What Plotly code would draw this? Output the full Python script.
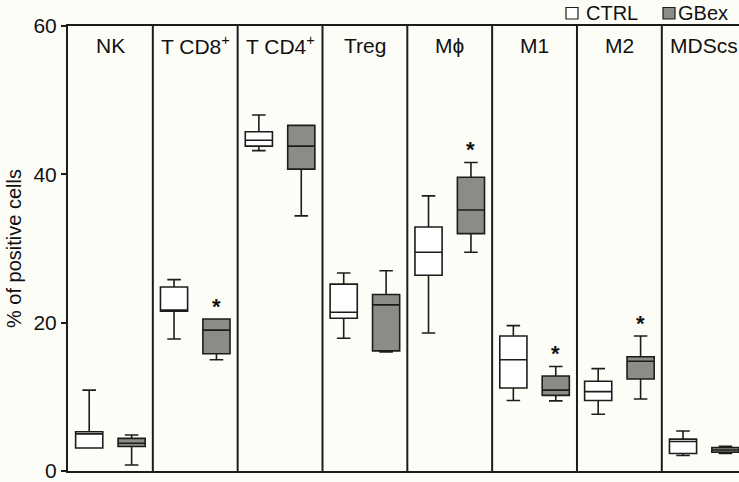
import plotly.graph_objects as go

categories = ["NK", "T CD8<sup>+</sup>", "T CD4<sup>+</sup>", "Treg", "Mϕ", "M1", "M2", "MDScs"]

# CTRL box statistics
ctrl_low = [3.1, 17.8, 43.2, 17.9, 18.6, 9.5, 7.65, 2.08]
ctrl_q1 = [3.1, 21.55, 43.8, 20.6, 26.4, 11.2, 9.5, 2.35]
ctrl_med = [5.0, 21.7, 44.6, 21.4, 29.5, 15.0, 10.7, 3.97]
ctrl_q3 = [5.3, 24.8, 45.75, 25.2, 32.9, 18.2, 12.1, 4.3]
ctrl_high = [10.9, 25.8, 48.0, 26.7, 37.1, 19.6, 13.8, 5.4]

# GBex box statistics
gb_low = [0.8, 15.0, 34.4, 16.05, 29.5, 9.45, 9.7, 2.35]
gb_q1 = [3.3, 15.8, 40.7, 16.2, 32.0, 10.2, 12.4, 2.52]
gb_med = [3.75, 19.0, 43.8, 22.4, 35.2, 10.9, 14.8, 2.84]
gb_q3 = [4.4, 20.5, 46.6, 23.8, 39.6, 12.8, 15.4, 3.16]
gb_high = [4.86, 20.5, 46.6, 27.0, 41.6, 14.1, 18.2, 3.33]

significant = [False, True, False, False, True, True, True, False]

y_ticks = [0, 20, 40, 60]

BG = "#fdfdf8"
LINE = "#1c1c1c"
GRAY = "#8b8b87"
FONT = "Liberation Sans, Arial, sans-serif"

idx = list(range(len(categories)))
x_ctrl = [i - 0.25 for i in idx]
x_gb = [i + 0.25 for i in idx]

fig = go.Figure()
fig.add_trace(go.Box(
    x=x_ctrl, q1=ctrl_q1, median=ctrl_med, q3=ctrl_q3,
    lowerfence=ctrl_low, upperfence=ctrl_high,
    width=0.32, whiskerwidth=0.5, boxpoints=False,
    fillcolor="#ffffff", line=dict(color=LINE, width=1.6),
    name="CTRL", showlegend=False, hoverinfo="skip"))
fig.add_trace(go.Box(
    x=x_gb, q1=gb_q1, median=gb_med, q3=gb_q3,
    lowerfence=gb_low, upperfence=gb_high,
    width=0.32, whiskerwidth=0.5, boxpoints=False,
    fillcolor=GRAY, line=dict(color=LINE, width=1.6),
    name="GBex", showlegend=False, hoverinfo="skip"))

shapes = []
for i in idx[:-1]:
    shapes.append(dict(type="line", xref="x", yref="y", x0=i + 0.5, x1=i + 0.5,
                       y0=0, y1=60, line=dict(color=LINE, width=2)))

annotations = []
for i, c in enumerate(categories):
    annotations.append(dict(x=i, y=57.4, xref="x", yref="y", text=c, showarrow=False,
                            font=dict(family=FONT, size=21, color="#111")))
for i, s in enumerate(significant):
    if s:
        annotations.append(dict(x=x_gb[i], y=gb_high[i], xref="x", yref="y", text="<b>*</b>",
                                showarrow=False, yanchor="bottom", yshift=-2,
                                font=dict(family=FONT, size=22, color="#111")))

# legend (top right) in pixel -> paper coordinates
W, H = 739, 482
L, R, T, B = 68, 0, 26, 11
pw, ph = W - L - R, H - T - B
def px(xp):
    return (xp - L) / pw
def py(yp):
    return (H - B - yp) / ph

shapes.append(dict(type="rect", xref="paper", yref="paper", x0=px(566), x1=px(578),
                   y0=py(19), y1=py(7.5), fillcolor="#ffffff", line=dict(color=LINE, width=1.2)))
shapes.append(dict(type="rect", xref="paper", yref="paper", x0=px(663), x1=px(675),
                   y0=py(19), y1=py(7.5), fillcolor=GRAY, line=dict(color=LINE, width=1.2)))
annotations.append(dict(x=px(584), y=py(13), xref="paper", yref="paper", text="CTRL",
                        showarrow=False, xanchor="left", yanchor="middle",
                        font=dict(family=FONT, size=20, color="#111")))
annotations.append(dict(x=px(676), y=py(13), xref="paper", yref="paper", text="GBex",
                        showarrow=False, xanchor="left", yanchor="middle",
                        font=dict(family=FONT, size=20, color="#111")))

fig.update_layout(
    width=W, height=H,
    margin=dict(l=L, r=R, t=T, b=B),
    paper_bgcolor=BG, plot_bgcolor=BG,
    boxmode="overlay",
    shapes=shapes, annotations=annotations,
    font=dict(family=FONT, size=21, color="#111"),
    xaxis=dict(range=[-0.5, 7.41], showticklabels=False, ticks="", showgrid=False,
               zeroline=False, showline=True, mirror=True, linecolor=LINE, linewidth=2),
    yaxis=dict(range=[0, 60], tickvals=y_ticks, ticks="outside", ticklen=5, tickwidth=2,
               tickcolor=LINE, showgrid=False, zeroline=False, showline=True,
               linecolor=LINE, linewidth=2, ticklabeloverflow="allow",
               tickfont=dict(family=FONT, size=21, color="#111"),
               title=dict(text="% of positive cells", standoff=6,
                          font=dict(family=FONT, size=20, color="#111"))),
)

fig.write_html("out.html", config={"displayModeBar": False},
               post_script="document.body.style.margin='0';document.body.style.overflow='hidden';document.body.style.background='" + BG + "';")
